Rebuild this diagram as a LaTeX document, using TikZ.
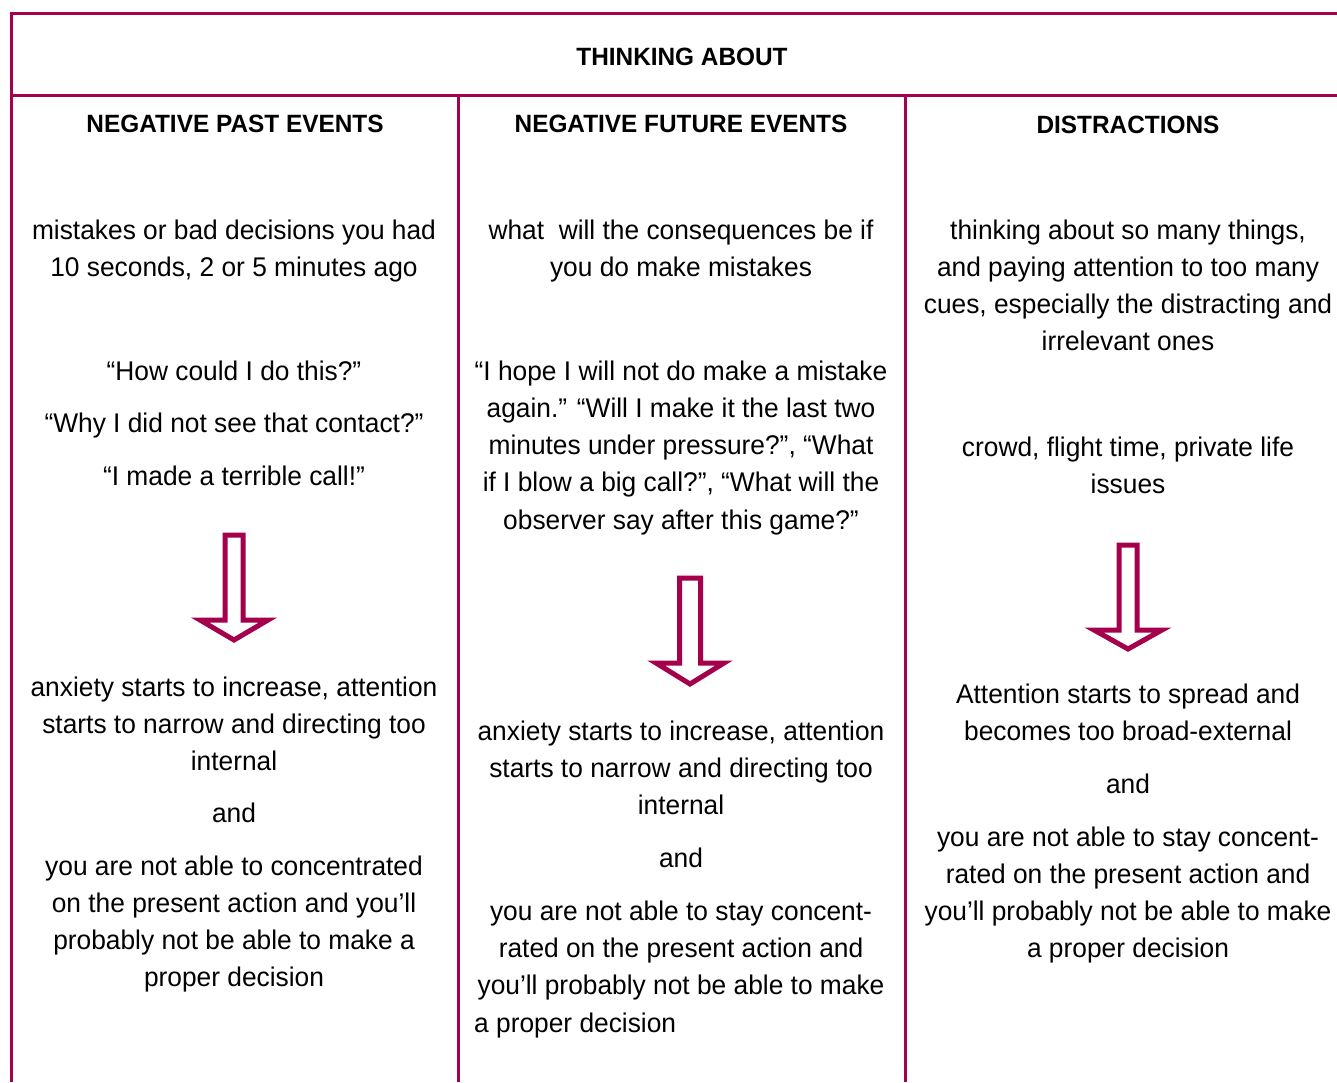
\documentclass[tikz,border=0pt]{standalone}
\usepackage{fontspec}
\setmainfont{Liberation Sans}[FakeStretch=0.975]
\definecolor{crim}{RGB}{164,0,75}
\newcommand\mypara[4]{%
  \foreach \t [count=\i] in {#4}
    \node[txt] (#1-\i) at (#2,{#3+37.3*(\i-1)}) {\t};}
\begin{document}
\begin{tikzpicture}[x=1pt,y=-1pt,
  txt/.style={anchor=base,inner sep=0pt,font=\fontsize{27}{37}\selectfont},
  hdr/.style={anchor=base,inner sep=0pt,font=\fontsize{25}{30}\selectfont\bfseries},
  rule/.style={draw=crim,line width=3pt},
  bigarrow/.style={draw=crim,line width=5pt,fill=white,line join=miter}]
\useasboundingbox (0,0) rectangle (1337,1082);
% frame
\draw[rule] (11,1082) -- (11,13) -- (1337,13);
\draw[rule] (11,95) -- (1337,95);
\draw[rule] (458,95) -- (458,1082);
\draw[rule] (905,95) -- (905,1082);
% headings
\node[hdr,font=\fontsize{25}{30}\selectfont\bfseries] (title) at (682,65) {THINKING ABOUT};
\node[hdr] (h1) at (235,132) {NEGATIVE PAST EVENTS};
\node[hdr] (h2) at (681,132) {NEGATIVE FUTURE EVENTS};
\node[hdr] (h3) at (1128,133) {DISTRACTIONS};
% column 1
\mypara{a}{234}{239}{{mistakes or bad decisions you had},{10 seconds, 2 or 5 minutes ago}}
\node[txt] (q1) at (234,380) {“How could I do this?”};
\node[txt] (q2) at (234,432) {“Why I did not see that contact?”};
\node[txt] (q3) at (234,485) {“I made a terrible call!”};
\mypara{b}{234}{696}{{anxiety starts to increase, attention},{starts to narrow and directing too},{internal}}
\node[txt] (and1) at (234,822) {and};
\mypara{c}{234}{875}{{you are not able to concentrated},{on the present action and you’ll},{probably not be able to make a},{proper decision}}
% column 2
\mypara{d}{681}{239}{{what\ \ will the consequences be if},{you do make mistakes}}
\mypara{e}{681}{380}{{“I hope I will not do make a mistake},{again.” “Will I make it the last two},{minutes under pressure?”, “What},{if I blow a big call?”, “What will the},{observer say after this game?”}}
\mypara{f}{681}{740}{{anxiety starts to increase, attention},{starts to narrow and directing too},{internal}}
\node[txt] (and2) at (681,867) {and};
\mypara{g}{681}{920}{{you are not able to stay concent-},{rated on the present action and},{you’ll probably not be able to make}}
\node[txt,anchor=base west] (g-4) at (474,1032) {a proper decision};
% column 3
\mypara{k}{1128}{239}{{thinking about so many things,},{and paying attention to too many},{cues, especially the distracting and},{irrelevant ones}}
\mypara{l}{1128}{456}{{crowd, flight time, private life},{issues}}
\mypara{m}{1128}{703}{{Attention starts to spread and},{becomes too broad-external}}
\node[txt] (and3) at (1128,793) {and};
\mypara{n}{1128}{846}{{you are not able to stay concent-},{rated on the present action and},{you’ll probably not be able to make},{a proper decision}}
% arrows
\draw[bigarrow] (225,535) -- (243,535) -- (243,620) -- (268,620) -- (234,640) -- (200,620) -- (225,620) -- cycle;
\draw[bigarrow] (679.5,578) -- (700.5,578) -- (700.5,663) -- (724,663) -- (690,684) -- (656,663) -- (679.5,663) -- cycle;
\draw[bigarrow] (1119,545) -- (1137,545) -- (1137,630) -- (1162,630) -- (1128,649) -- (1094,630) -- (1119,630) -- cycle;
\end{tikzpicture}
\end{document}
